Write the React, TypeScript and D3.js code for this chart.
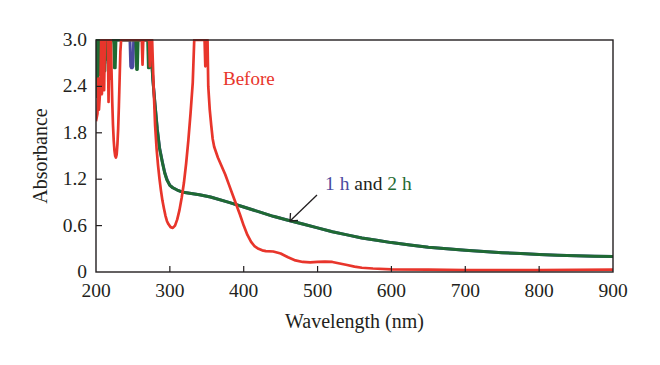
import * as d3 from "d3";

// wavelength (nm) / absorbance pairs
const BEFORE_WL = [
  200, 202, 203, 204, 206, 207, 208, 209, 210, 211, 212, 214, 216, 217, 218,
  219, 220, 221, 222, 223, 224, 225, 226, 227, 228, 229, 230, 231, 232, 233,
  234, 240, 250, 260, 262, 263, 264, 266, 272, 273, 274, 276, 277, 278, 279,
  280, 282, 284, 286, 288, 290, 292, 294, 296, 298, 301, 304, 307, 310, 313,
  316, 319, 322, 325, 328, 331, 333, 340, 347, 348, 349, 351, 352, 354, 356,
  358, 360, 365, 370, 375, 380, 385, 390, 395, 400, 405, 410, 415, 420, 425,
  430, 440, 450, 460, 470, 480, 490, 500, 510, 520, 530, 540, 550, 560, 575,
  600, 650, 700, 750, 800, 850, 900,
];
const BEFORE_ABS = [
  1.95, 2.05, 2.5, 2.1, 2.4, 3.0, 2.3, 2.8, 3.0, 2.35, 3.0, 3.0, 3.0, 2.2, 3.0,
  2.5, 3.0, 2.6, 2.2, 1.9, 1.7, 1.57, 1.5, 1.48, 1.52, 1.65, 1.85, 2.15, 2.5,
  2.85, 3.0, 3.0, 3.0, 3.0, 3.0, 2.68, 3.0, 3.0, 3.0, 2.66, 3.0, 3.0, 2.7, 2.4,
  2.15, 1.9, 1.6, 1.38, 1.2, 1.05, 0.92, 0.82, 0.73, 0.66, 0.62, 0.58, 0.57,
  0.6, 0.68, 0.8, 0.96, 1.15, 1.4, 1.7, 2.05, 2.45, 3.0, 3.0, 3.0, 2.66, 3.0,
  3.0, 2.4, 2.1, 1.9, 1.72, 1.62, 1.48, 1.37, 1.26, 1.13, 1.0, 0.87, 0.74,
  0.6, 0.48, 0.39, 0.33, 0.3, 0.28, 0.27, 0.265, 0.24, 0.19, 0.15, 0.13, 0.125,
  0.13, 0.135, 0.13, 0.11, 0.09, 0.07, 0.055, 0.045, 0.035, 0.03, 0.025, 0.025,
  0.025, 0.028, 0.03,
];

const H2_WL = [
  200, 201, 202, 203, 204, 205, 206, 207, 208, 209, 210, 211, 212, 213, 215,
  216, 219, 220, 224, 225, 226, 227, 240, 254, 255, 256, 257, 258, 270, 271,
  272, 273, 274, 275, 277, 280, 283, 286, 290, 293, 296, 300, 304, 310, 318,
  340, 355, 380, 400, 420, 440, 460, 480, 500, 520, 540, 560, 580, 600, 625,
  650, 675, 700, 725, 750, 775, 800, 825, 850, 875, 900,
];
const H2_ABS = [
  2.25, 3.0, 2.4, 3.0, 2.55, 3.0, 2.7, 3.0, 2.45, 3.0, 2.8, 3.0, 2.6, 3.0,
  2.75, 3.0, 2.85, 3.0, 3.0, 2.64, 2.64, 3.0, 3.0, 3.0, 2.62, 2.62, 3.0, 3.0,
  3.0, 2.64, 2.64, 3.0, 3.0, 2.8, 2.48, 2.15, 1.84, 1.6, 1.41, 1.28, 1.19,
  1.12, 1.09, 1.06, 1.03, 1.0, 0.97, 0.9, 0.84, 0.78, 0.72, 0.67, 0.62, 0.57,
  0.52, 0.48, 0.44, 0.41, 0.38, 0.35, 0.32, 0.3, 0.28, 0.265, 0.25, 0.24,
  0.225, 0.215, 0.21, 0.205, 0.2,
];

// 1 h sits under 2 h almost everywhere; only a dip near 249 nm shows
const H1_WL = [
  200, 201, 202, 203, 205, 206, 208, 210, 212, 214, 246, 247, 248, 249, 250,
  251, 274, 275, 277, 280, 283, 286, 290, 293, 296, 300, 304, 310, 318, 340,
  355, 380, 400, 420, 440, 460, 480, 500, 520, 540, 560, 580, 600, 625, 650,
  675, 700, 725, 750, 775, 800, 825, 850, 875, 900,
];
const H1_ABS = [
  2.4, 3.0, 2.6, 3.0, 3.0, 2.7, 3.0, 3.0, 2.7, 3.0, 3.0, 2.66, 2.64, 2.64,
  2.66, 3.0, 3.0, 2.8, 2.49, 2.16, 1.85, 1.61, 1.42, 1.29, 1.2, 1.12, 1.09,
  1.06, 1.03, 1.0, 0.97, 0.9, 0.84, 0.78, 0.72, 0.67, 0.62, 0.57, 0.52, 0.48,
  0.44, 0.41, 0.38, 0.35, 0.32, 0.3, 0.28, 0.265, 0.25, 0.24, 0.225, 0.215,
  0.21, 0.205, 0.2,
];

const X_TICKS = [200, 300, 400, 500, 600, 700, 800, 900];
const Y_TICKS = [0, 0.6, 1.2, 1.8, 2.4, 3.0];

const RED = "#e8352b";
const GREEN = "#1f6a33";
const BLUE = "#4b4a9e";
const INK = "#231f20";
const FONT = "'Liberation Serif', 'DejaVu Serif', serif";

const W = 660;
const H = 365;
const M = { left: 96, right: 613, top: 40, bottom: 272 };

const x = d3.scaleLinear().domain([200, 900]).range([M.left, M.right]);
const y = d3.scaleLinear().domain([0, 3]).range([M.bottom, M.top]);

const line = d3
  .line<[number, number]>()
  .x((d) => x(d[0]))
  .y((d) => y(d[1]));

const pairs = (wl: number[], ab: number[]) =>
  wl.map((w, i) => [w, ab[i]] as [number, number]);

export default function App() {
  const tick = 6;
  return (
    <svg
      width={W}
      height={H}
      style={{ position: "absolute", left: 0, top: 0, background: "#fff" }}
      fontFamily={FONT}
    >
      <defs>
        <clipPath id="plot">
          <rect x={M.left} y={M.top - 1} width={M.right - M.left} height={M.bottom - M.top + 1} />
        </clipPath>
      </defs>

      <g clipPath="url(#plot)" fill="none" strokeLinejoin="round">
        <path d={line(pairs(H1_WL, H1_ABS)) ?? ""} stroke={BLUE} strokeWidth={3} />
        <path d={line(pairs(H2_WL, H2_ABS)) ?? ""} stroke={GREEN} strokeWidth={3} />
        <path d={line(pairs(BEFORE_WL, BEFORE_ABS)) ?? ""} stroke={RED} strokeWidth={2.7} />
      </g>

      {/* frame */}
      <rect
        x={M.left}
        y={M.top}
        width={M.right - M.left}
        height={M.bottom - M.top}
        fill="none"
        stroke={INK}
        strokeWidth={1.4}
      />

      {/* x ticks, pointing inward */}
      {X_TICKS.map((t) => (
        <g key={t}>
          {t > 200 && t < 900 && (
            <line x1={x(t)} x2={x(t)} y1={M.bottom} y2={M.bottom - tick} stroke={INK} strokeWidth={1.2} />
          )}
          <text x={x(t)} y={M.bottom + 25} fontSize={19.5} textAnchor="middle" fill={INK}>
            {t}
          </text>
        </g>
      ))}

      {/* y ticks */}
      {Y_TICKS.map((t) => (
        <g key={t}>
          {t > 0 && t < 3 && (
            <line x1={M.left} x2={M.left + tick} y1={y(t)} y2={y(t)} stroke={INK} strokeWidth={1.2} />
          )}
          <text x={M.left - 9} y={y(t) + 6} fontSize={19.5} textAnchor="end" fill={INK}>
            {t === 0 ? "0" : t.toFixed(1)}
          </text>
        </g>
      ))}

      <text
        x={(M.left + M.right) / 2}
        y={328}
        fontSize={20}
        textAnchor="middle"
        fill={INK}
      >
        Wavelength (nm)
      </text>
      <text
        transform={`translate(47,${(M.top + M.bottom) / 2}) rotate(-90)`}
        fontSize={20}
        textAnchor="middle"
        fill={INK}
      >
        Absorbance
      </text>

      <text x={223} y={85} fontSize={19} fill={RED}>
        Before
      </text>

      <text x={325} y={190} fontSize={19.5}>
        <tspan fill={BLUE}>1 h</tspan>
        <tspan fill={INK}> and </tspan>
        <tspan fill={GREEN}>2 h</tspan>
      </text>

      {/* arrow to the 1 h / 2 h curve */}
      <g stroke={INK} strokeWidth={1.3} fill="none">
        <line x1={317} y1={195} x2={290} y2={221} />
        <polyline points="290.5,213 290,221 298,220.5" />
      </g>
    </svg>
  );
}
